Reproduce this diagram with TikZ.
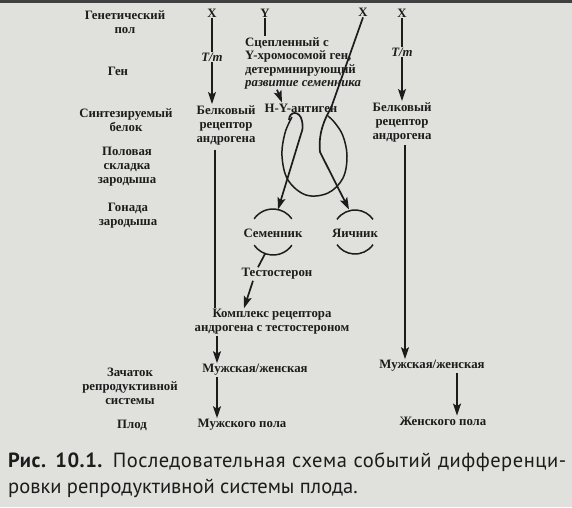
\documentclass[tikz,border=0pt]{standalone}
\usepackage{fontspec}
\setmainfont{Liberation Serif}
\newfontfamily\capfont{PT Sans}
\usetikzlibrary{arrows.meta,calc}
\definecolor{paper}{RGB}{224,224,220}
\definecolor{ink}{RGB}{28,28,28}
\tikzset{
  lbl/.style={font=\fontsize{12.8}{14}\selectfont\bfseries, align=center, inner sep=1pt, text=ink},
  ln/.style={line width=1.7pt, draw=ink},
  arr/.style={ln, -{Stealth[length=12pt,width=8pt,inset=2.5pt]}},
  gonad/.style={line width=1.5pt, draw=ink},
  capstyle/.style={font=\capfont\fontsize{20.5}{24}\selectfont, inner sep=0pt, anchor=west, text=ink},
}
\begin{document}
\begin{tikzpicture}[x=1pt,y=-1pt]
\useasboundingbox (0,0) rectangle (572,507);
\fill[paper] (0,0) rectangle (572,507);
\fill[black!75] (0,0) rectangle (572,2.5);

% left column labels
\node[lbl] (gsex)  at (125,22)  {Генетический\\пол};
\node[lbl] (gene)  at (118,71)  {Ген};
\node[lbl] (prot)  at (126,120) {Синтезируемый\\белок};
\node[lbl] (fold)  at (127,167) {Половая\\складка\\зародыша};
\node[lbl] (gonad) at (128,216) {Гонада\\зародыша};
\node[lbl] (prim)  at (130,386) {Зачаток\\репродуктивной\\системы};
\node[lbl] (fetus) at (132,425) {Плод};

% main column
\node[lbl] (x1)   at (212,13)  {X};
\node[lbl] (t1)   at (212,57)  {\itshape T/m};
\node[lbl] (bel1) at (226,125) {Белковый\\рецептор\\андрогена};
\node[lbl] (komp) at (272,322) {Комплекс рецептора\\андрогена с тестостероном};
\node[lbl] (mz1)  at (255,370) {Мужская/женская};
\node[lbl] (mp)   at (242,425) {Мужского пола};

% right column
\node[lbl] (x3)   at (402,13)  {X};
\node[lbl] (t2)   at (402,52)  {\itshape T/m};
\node[lbl] (bel2) at (402,122) {Белковый\\рецептор\\андрогена};
\node[lbl] (mz2)  at (432,366) {Мужская/женская};
\node[lbl] (zp)   at (443,421) {Женского пола};

% middle
\node[lbl] (yy)   at (265,13)  {Y};
\node[lbl] (x2)   at (363,12)  {X};
\node[lbl] (hy)   at (301,108) {H-Y-антиген};
\node[lbl] (sem)  at (273,233) {Семенник};
\node[lbl] (yai)  at (355,233) {Яичник};
\node[lbl] (testo) at (277,274) {Тестостерон};
\node[lbl, align=left, anchor=north west, font=\fontsize{12.8}{13.6}\selectfont\bfseries] (gen) at (244,36)
  {Сцепленный с\\Y-хромосомой ген,\\детерминирующий\\\textit{развитие семенника}};

\coordinate (semc) at (273,232);
\coordinate (yaic) at (355,232);
\coordinate (semT) at (278,209.5);
\coordinate (yaiT) at (349,209.5);
\coordinate (hookL) at (289,120);
\coordinate (bendR) at (331,108);

% strand from the second X
\draw[arr] (x2.south) -- (bendR) .. controls (325,118) and (318,133) .. (320,152) -- (yaiT);

% left strand with hook
\draw[arr] (hookL) .. controls (289,111) and (300,110) .. (302,121) .. controls (303,126) and (303,129) .. (301,134) -- (semT);

% large loop
\draw[gonad] plot[smooth,tension=0.6] coordinates {(292,117) (285,133) (282,156) (288,180) (306,195) (328,193) (343,178) (347,156) (343,136) (335,123) (328,116)};

% gonad circles
\draw[gonad] ([shift={(35:23)}]semc) arc[start angle=35,end angle=145,radius=23];
\draw[gonad] ([shift={(215:23)}]semc) arc[start angle=215,end angle=325,radius=23];
\draw[gonad] ([shift={(35:22)}]yaic) arc[start angle=35,end angle=145,radius=22];
\draw[gonad] ([shift={(215:22)}]yaic) arc[start angle=215,end angle=325,radius=22];

% main column connectors
\draw[ln] (x1) -- (t1);
\draw[arr] (t1.south) -- (t1.south |- bel1.north);
\draw[ln] ([xshift=-11pt,yshift=-4pt]bel1.south) -- ([xshift=-57pt]komp.north);
\draw[ln] ([shift={(110:23)}]semc) -- ([xshift=-19pt]testo.north);
\draw[arr] ([xshift=-24pt]testo.south) -- ([xshift=-28pt]komp.north);
\draw[arr] ([xshift=-55pt]komp.south) -- ([xshift=-38pt]mz1.north);
\draw[arr] ([xshift=-38pt]mz1.south) -- ([xshift=-25pt]mp.north);

% right column connectors
\draw[ln] (x3) -- (t2);
\draw[arr] (t2.south) -- (t2.south |- bel2.north);
\draw[arr] ([xshift=3pt,yshift=-2pt]bel2.south) -- ([xshift=-27pt]mz2.north);
\draw[arr] ([xshift=25pt]mz2.south) -- ([xshift=14pt]zp.north);

% Y connectors
\draw[ln] (yy) -- ([xshift=21pt]gen.north west);
\draw[arr] ([xshift=33pt,yshift=1pt]gen.south west) -- ([xshift=-19pt]hy.north);

% caption
\node[capstyle] (cap1) at (8,462) {\makebox[558pt][s]{\addfontfeature{LetterSpace=2.5}\textbf{Рис. 10.1.} Последовательная схема событий дифференци-}};
\node[capstyle] (cap2) at (8,488) {ровки репродуктивной системы плода.};
\end{tikzpicture}
\end{document}
